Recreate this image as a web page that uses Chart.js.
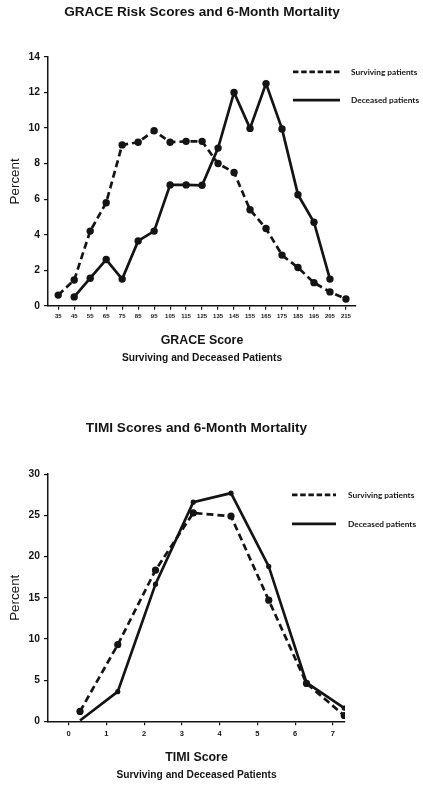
<!DOCTYPE html>
<html>
<head>
<meta charset="utf-8">
<title>GRACE and TIMI Scores and 6-Month Mortality</title>
<script src="https://cdn.jsdelivr.net/npm/chart.js@4.4.1/dist/chart.umd.min.js"></script>
<style>
  html, body { margin: 0; padding: 0; background: #fff; }
  body { width: 423px; height: 786px; position: relative; overflow: hidden; }
  .panel { position: absolute; left: 0; width: 423px; }
  #graceWrap { top: 0; height: 372px; }
  #timiWrap { top: 380px; height: 406px; }
</style>
</head>
<body>
<div class="panel" id="graceWrap"><canvas id="graceChart"></canvas></div>
<div class="panel" id="timiWrap"><canvas id="timiChart"></canvas></div>
<script>
// GRACE panel
const graceScores = [35, 45, 55, 65, 75, 85, 95, 105, 115, 125, 135, 145, 155, 165, 175, 185, 195, 205, 215];
const graceSurviving = [0.6, 1.45, 4.2, 5.8, 9.05, 9.2, 9.85, 9.2, 9.25, 9.25, 8.0, 7.5, 5.4, 4.35, 2.85, 2.15, 1.3, 0.78, 0.38];
const graceDeceasedScores = [45, 55, 65, 75, 85, 95, 105, 115, 125, 135, 145, 155, 165, 175, 185, 195, 205];
const graceDeceased = [0.5, 1.55, 2.6, 1.5, 3.65, 4.2, 6.8, 6.8, 6.78, 8.87, 12.0, 9.98, 12.5, 9.95, 6.25, 4.7, 1.5];

// TIMI panel
const timiTicks = [0, 1, 2, 3, 4, 5, 6, 7];
const timiX = [0.3, 1.3, 2.3, 3.3, 4.3, 5.3, 6.3, 7.3];
const timiSurviving = [1.2, 9.3, 18.35, 25.3, 24.9, 14.7, 4.6, 0.7];
const timiDeceased = [0.1, 3.6, 16.65, 26.6, 27.7, 18.8, 4.7, 1.6];

const seriesLabels = ["Surviving patients", "Deceased patients"];

const ink = "#141414";
const sans = "'Liberation Sans', Arial, sans-serif";
const legendFont = "bold 8.3px Lato, 'Open Sans', sans-serif";

Chart.defaults.font.family = sans;
Chart.defaults.color = ink;

function pairs(xs, ys) {
  return xs.map((x, i) => ({ x, y: ys[i] }));
}

// legend sits inside the plot, upper right, as in the original figure
const lineLegend = {
  id: "lineLegend",
  afterDraw(chart, args, opts) {
    const { ctx, chartArea } = chart;
    ctx.save();
    chart.data.datasets.forEach((ds, i) => {
      const y = chartArea.top + opts.top + i * opts.gap;
      ctx.beginPath();
      ctx.setLineDash(ds.borderDash ? opts.dash : []);
      ctx.lineWidth = ds.borderWidth;
      ctx.strokeStyle = ds.borderColor;
      ctx.moveTo(opts.x, y);
      ctx.lineTo(opts.x + opts.length, y);
      ctx.stroke();
      ctx.setLineDash([]);
      ctx.fillStyle = ink;
      ctx.font = legendFont;
      ctx.textBaseline = "middle";
      ctx.fillText(ds.label, opts.textX, y);
    });
    ctx.restore();
  },
};

function yAxis(max, step) {
  return {
    min: 0,
    max,
    afterFit(scale) {
      scale.width = 48;
    },
    border: { display: true, color: ink, width: 1.5 },
    grid: { drawOnChartArea: false, drawTicks: true, tickLength: 4, color: ink, lineWidth: 1.2 },
    ticks: { stepSize: step, padding: 4, font: { size: 10.3, weight: "bold" }, color: ink },
    title: {
      display: true,
      text: "Percent",
      font: { size: 13.4 },
      color: ink,
      padding: { top: 7, bottom: 0 },
    },
  };
}

function xAxis(min, max, tickValues, tickFont, tickPad, title, titlePadTop) {
  return {
    type: "linear",
    min,
    max,
    afterBuildTicks(scale) {
      scale.ticks = tickValues.map((value) => ({ value }));
    },
    border: { display: true, color: ink, width: 1.5 },
    grid: { drawOnChartArea: false, drawTicks: true, tickLength: 4, color: ink, lineWidth: 1.2 },
    ticks: { padding: tickPad, font: { size: tickFont, weight: "bold" }, color: ink, maxRotation: 0, autoSkip: false },
    title: {
      display: true,
      text: title,
      font: { size: 12.4, weight: "bold" },
      color: ink,
      padding: { top: titlePadTop, bottom: 0 },
    },
  };
}

function lineSet(label, data, dashed, radius) {
  return {
    label,
    data,
    borderColor: ink,
    backgroundColor: ink,
    borderWidth: 2.7,
    borderDash: dashed ? [7, 4] : undefined,
    pointRadius: radius,
    pointBackgroundColor: ink,
    pointBorderColor: ink,
    pointBorderWidth: 0,
    tension: 0,
  };
}

function titleOpts(text, padTop, padBottom) {
  return {
    display: true,
    text,
    fullSize: false,
    font: { size: 13.6, weight: "bold" },
    color: ink,
    padding: { top: padTop, bottom: padBottom },
  };
}

function subtitleOpts(padTop, padBottom) {
  return {
    display: true,
    position: "bottom",
    text: "Surviving and Deceased Patients",
    fullSize: false,
    font: { size: 10.2, weight: "bold" },
    color: ink,
    padding: { top: padTop, bottom: padBottom },
  };
}

function renderGrace() {
  new Chart(document.getElementById("graceChart"), {
    type: "line",
    data: {
      datasets: [
        lineSet(seriesLabels[0], pairs(graceScores, graceSurviving), true, 3.7),
        lineSet(seriesLabels[1], pairs(graceDeceasedScores, graceDeceased), false, 3.7),
      ],
    },
    plugins: [lineLegend],
    options: {
      responsive: true,
      maintainAspectRatio: false,
      animation: false,
      layout: { padding: { left: 0, right: 67, top: 0, bottom: 0 } },
      scales: {
        x: xAxis(28.6, 221.3, graceScores, 6, 2.8, "GRACE Score", 10.7),
        y: yAxis(14, 2),
      },
      plugins: {
        legend: { display: false },
        tooltip: { enabled: false },
        title: titleOpts("GRACE Risk Scores and 6-Month Mortality", 3.8, 36.8),
        subtitle: subtitleOpts(3.7, 7.9),
        lineLegend: { x: 293, length: 47, textX: 351, top: 15, gap: 28.3, dash: [5.5, 2.7] },
      },
    },
  });
}

function renderTimi() {
  new Chart(document.getElementById("timiChart"), {
    type: "line",
    data: {
      datasets: [
        lineSet(seriesLabels[0], pairs(timiX, timiSurviving), true, 3.6),
        lineSet(seriesLabels[1], pairs(timiX, timiDeceased), false, (ctx) => (ctx.dataIndex === 0 ? 0 : 2.6)),
      ],
    },
    plugins: [lineLegend],
    options: {
      responsive: true,
      maintainAspectRatio: false,
      animation: false,
      layout: { padding: { left: 0, right: 78, top: 0, bottom: 0 } },
      scales: {
        x: xAxis(-0.548, 7.32, timiTicks, 7.5, 4.3, "TIMI Score", 7.7),
        y: yAxis(30, 5),
      },
      plugins: {
        legend: { display: false },
        tooltip: { enabled: false },
        title: titleOpts("TIMI Scores and 6-Month Mortality", 39.8, 38.1),
        subtitle: subtitleOpts(3.4, 4.9),
        lineLegend: { x: 292, length: 44, textX: 348, top: 20.7, gap: 29, dash: [5.5, 2.7] },
      },
    },
  });
}

renderGrace();
renderTimi();
</script>
</body>
</html>
